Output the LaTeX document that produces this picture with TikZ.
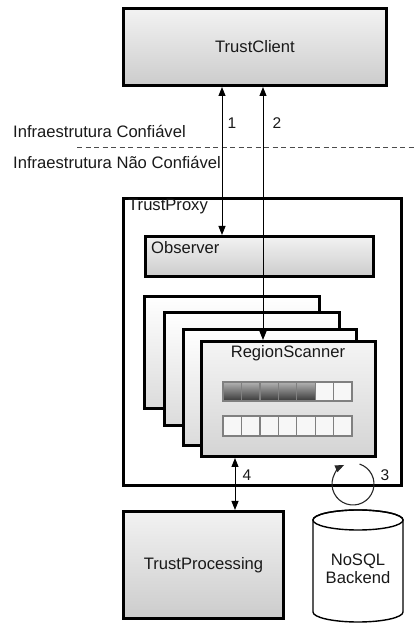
\documentclass[tikz,border=0pt]{standalone}
\usepackage{fontspec}
\setmainfont{Liberation Sans}
\usetikzlibrary{arrows.meta,shadows,calc}
\begin{document}
\begin{tikzpicture}[x=1pt,y=1pt,
  lbl/.style={font=\fontsize{16.6}{18}\selectfont, text=black!90, inner sep=0pt},
  num/.style={font=\fontsize{15.5}{18}\selectfont, text=black!90, inner sep=0pt},
  bigbox/.style={draw=black, line width=3.8pt, top color=black!5, bottom color=black!20,
     inner sep=0pt, outer sep=0pt, anchor=south west,
     drop shadow={shadow xshift=0pt, shadow yshift=-2pt, opacity=0.25}},
  proxybox/.style={draw=black, line width=3.4pt, fill=white, inner sep=0pt, outer sep=0pt, anchor=south west},
  panel/.style={draw=black, line width=3.2pt, top color=white, bottom color=black!14,
     inner sep=0pt, outer sep=0pt, anchor=south west,
     drop shadow={shadow xshift=0pt, shadow yshift=-2pt, opacity=0.25}},
  frontpanel/.style={panel, top color=black!4, bottom color=black!17},
  cell/.style={draw=black!50, line width=1.3pt, fill=black!3},
  darkcell/.style={draw=black!50, line width=1.3pt, top color=black!30, bottom color=black!78},
  biarrow/.style={draw=black, line width=1pt, {Triangle[length=9pt,width=7pt]}-{Triangle[length=9pt,width=7pt]}},
  dashline/.style={draw=black!70, line width=1pt, dash pattern=on 5pt off 3.5pt}
]
\useasboundingbox (0,0) rectangle (417,625);

% Trust boundary
\coordinate (dl) at (77,477);
\coordinate (dr) at (417,477);
\draw[dashline] (dl) -- (dr);
\node[lbl, anchor=west] (trusted) at (13,494) {Infraestrutura Confiável};
\node[lbl, anchor=west] (untrusted) at (13,463) {Infraestrutura Não Confiável};

% TrustClient
\node[bigbox, minimum width=263pt, minimum height=77pt, font=\fontsize{16.6}{18}\selectfont, text=black!90] (tc) at (123.5,539.5) {TrustClient};

% TrustProxy container
\node[proxybox, minimum width=278pt, minimum height=287pt] (proxy) at (123.5,139.5) {};
\node[lbl, anchor=west] (proxylbl) at (128,418) {TrustProxy};

% Observer
\node[bigbox, minimum width=228pt, minimum height=40pt] (obs) at (145.5,348.5) {};
\node[lbl, anchor=west] (obslbl) at (151,377) {Observer};

% Stacked RegionScanner panels
\node[panel, minimum width=175pt, minimum height=112pt] (p1) at (144.5,216.5) {};
\node[panel, minimum width=175pt, minimum height=113pt] (p2) at (164.5,199.5) {};
\node[panel, minimum width=173pt, minimum height=116pt] (p3) at (183.5,179.5) {};
\node[frontpanel, minimum width=174pt, minimum height=115pt] (rs) at (201.5,168.5) {};
\node[lbl] (rslbl) at (288,272) {RegionScanner};

% Cell bars
\foreach \i in {0,...,6} {
  \pgfmathsetmacro{\xa}{223+\i*18.43}
  \pgfmathsetmacro{\xb}{223+(\i+1)*18.43}
  \ifnum\i<5
    \path[darkcell] (\xa,224) rectangle (\xb,243);
  \else
    \path[cell] (\xa,224) rectangle (\xb,243);
  \fi
  \path[cell] (\xa,189) rectangle (\xb,209);
}

% TrustProcessing
\node[bigbox, minimum width=160pt, minimum height=107pt, font=\fontsize{16.6}{18}\selectfont, text=black!90] (tp) at (123.5,6.5) {TrustProcessing};

% NoSQL backend cylinder
\filldraw[fill=white, draw=black, line width=1.4pt]
  (313,105) -- (313,13) arc[start angle=180, end angle=360, x radius=45, y radius=10] -- (403,105)
  arc[start angle=0, end angle=180, x radius=45, y radius=10] -- cycle;
\draw[black, line width=1.4pt] (358,105) ellipse[x radius=45, y radius=10];
\node[lbl, align=center] (nosql) at (358,56) {NoSQL\\Backend};

% Connectors
\draw[biarrow, shorten <=1.5pt, shorten >=1.5pt] (222,0 |- tc.south) -- (222,0 |- obs.north);
\node[num] (n1) at (232,502) {1};
\draw[biarrow, shorten <=1.5pt, shorten >=1.5pt] (263,0 |- tc.south) -- (263,0 |- rs.north);
\node[num] (n2) at (277,502) {2};
\draw[biarrow, shorten <=1.5pt, shorten >=1.5pt] (235,0 |- rs.south) -- (235,0 |- tp.north);
\node[num] (n4) at (247,150) {4};

% Loop 3
\coordinate (loopstart) at ($(353,141)+(72:21)$);
\draw[black!85, line width=1.1pt, -{Triangle[length=9pt,width=7pt]}]
  (loopstart) arc[start angle=72, end angle=-245, radius=21];
\node[num] (n3) at (385,150) {3};

\end{tikzpicture}
\end{document}
